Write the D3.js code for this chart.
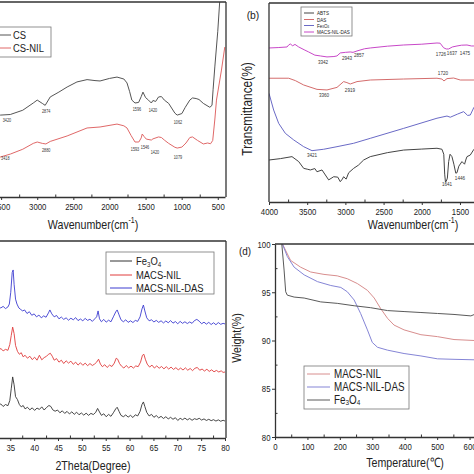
<!DOCTYPE html>
<html><head><meta charset="utf-8">
<script src="https://cdn.jsdelivr.net/npm/d3@7"></script>
<style>body{margin:0;background:#fff}svg{display:block}</style>
</head><body>
<svg id="c" width="474" height="474"></svg>
<script>
// ---------------- DATA ----------------
// (a) FTIR: [wavenumber, transmittance a.u.]
const csSeries = [[3650,41.5],[3511,42],[3373,42.3],[3200,44.5],[3055,48.2],[3000,49.7],[2930,48],[2890,47],[2820,51.3],[2700,53.8],[2586,56.4],[2450,59],[2310,60.2],[2200,59.7],[2130,59.5],[2000,60.8],[1895,61.5],[1800,60.5],[1757,58.5],[1720,54],[1690,49.7],[1646,48.2],[1596,48.5],[1560,51.5],[1536,53.8],[1500,51],[1460,49.7],[1420,48.2],[1398,49.5],[1360,49],[1320,51.3],[1280,51.5],[1240,49.7],[1180,48],[1094,43],[1062,42],[997,42.8],[950,46],[887,49.7],[850,50.8],[800,50.5],[760,50],[700,48],[610,46],[580,47],[565,55],[541,66.7],[500,85],[472,101],[450,110]];
const csNilSeries = [[3650,20],[3511,20.5],[3373,22],[3200,24.5],[3055,27.5],[3000,28.2],[2930,27.5],[2880,27.2],[2820,28.5],[2586,31.3],[2310,35.4],[2130,35.9],[1895,37.4],[1800,36.5],[1757,35.4],[1700,31.5],[1646,28.2],[1593,28.2],[1560,30.3],[1546,32.3],[1520,31],[1490,29.7],[1420,29.2],[1398,29.8],[1320,30.8],[1280,30.5],[1240,29.2],[1180,27.5],[1094,25.5],[1062,25.1],[997,25.6],[940,27.7],[887,30.5],[850,30.8],[780,29],[700,27.2],[640,27.7],[600,27.3],[570,29],[540,40],[518,49.7],[449,65.1],[403,76.9]];
const aLegend = ["CS","CS-NIL"];
const aPeaks = [["3420",3420,39.5],["2874",2876,44.1],["1596",1619,45.1],["1420",1398,44.6],["1062",1052,38.5],
  ["3418",3442,20],["2880",2876,24.1],["1593",1646,24.6],["1546",1508,25.6],["1420",1370,23.1],["1079",1052,20.5]];

// (b) FTIR
const abtsSeries = [[4000,21.1],[3850,21.8],[3699,22.8],[3611,20.3],[3546,16.9],[3500,16.5],[3459,16.1],[3400,16.8],[3372,15.2],[3306,16.1],[3219,11.1],[3153,12.7],[3100,12.5],[3067,10.2],[3040,11.5],[3023,12.7],[2990,11.5],[2957,14.7],[2892,16.9],[2830,18.5],[2761,21.1],[2674,22.8],[2450,24.8],[2237,26.1],[2000,26.6],[1801,27],[1736,26.5],[1712,24],[1700,14],[1690,10],[1679,10.5],[1665,12],[1648,20.3],[1630,24],[1605,22.8],[1580,19],[1555,14.5],[1539,14.7],[1515,18],[1474,20.3],[1440,19],[1420,21.6],[1408,22.8],[1365,23.6],[1317,26.5],[1200,27],[800,28]];
const dasSeries = [[4000,62.2],[3742,62.2],[3655,61],[3546,58.8],[3372,56.6],[3241,56.3],[3110,57.6],[3023,60.5],[2980,60],[2936,59.3],[2848,60.5],[2674,61.3],[2237,61.8],[1801,62.2],[1736,61.8],[1710,60.8],[1670,62],[1583,62.3],[1496,61.3],[1317,61.3],[1000,61.5],[500,61]];
const fe3o4IrSeries = [[4000,54.6],[3939,46.2],[3873,39.5],[3786,34.5],[3677,31.2],[3546,27.8],[3437,25.8],[3284,26.5],[3110,27.8],[2892,29.5],[2674,32],[2237,37],[1801,42.1],[1670,43.2],[1627,42.6],[1530,44.2],[1452,45.4],[1400,43.5],[1365,43.7],[1317,47.6],[1200,49],[800,52]];
const macsDasIrSeries = [[4000,77.4],[3880,77.6],[3764,77.9],[3740,79],[3721,79.4],[3690,78.5],[3660,79.2],[3611,77.9],[3540,76.5],[3481,75.4],[3400,73.8],[3328,73.4],[3241,72.9],[3150,73.1],[3110,73.4],[3067,74.9],[3000,75.2],[2936,75.4],[2900,75.2],[2848,75.9],[2750,77],[2674,77.4],[2450,78.3],[2237,78.9],[2000,79.3],[1801,79.9],[1760,79.8],[1714,77.5],[1680,76.9],[1648,76.9],[1600,77.9],[1539,78.4],[1480,78.8],[1408,78.9],[1350,78.4],[1317,78.4],[1100,78.6],[800,78],[500,77]];
const bLegend = ["ABTS","DAS","Fe3O4","MACS-NIL-DAS"];
const bPeaks = [["3342",3293,70.4],["2943",2979,72.4],["2857",2822,73.9],["1726",1749,74.4],["1637",1605,74.9],["1475",1435,74.9],
  ["3360",3280,53.8],["2919",2940,56.3],["1720",1723,64.8],["3421",3437,23.6],["1641",1670,9],["1446",1500,12.1]];

// (c) XRD: [2theta, intensity a.u.]
const xrdDas = [[31,66],[31.5,67.5],[32,66.2],[32.5,67],[33,66],[33.5,66.8],[34,65.7],[34.5,66.5],[34.8,68],[35.1,74],[35.4,84],[35.6,85.3],[35.8,78],[36.1,70.5],[36.4,68],[36.8,66],[37.2,65.2],[37.6,64.5],[38,65],[38.5,63.2],[39,64.1],[39.5,62.3],[40,63],[40.5,61.5],[41,62.4],[41.5,61],[42,62],[42.5,61.3],[43,63.5],[43.3,65],[43.7,63],[44.2,61.5],[44.7,62.2],[45.2,60.5],[45.7,61.4],[46.2,60.2],[46.7,61],[47.2,59.8],[47.7,60.8],[48.2,60],[48.7,61.1],[49.2,59.6],[49.7,60.4],[50.2,59.5],[50.7,60.7],[51.2,59.7],[51.7,60.3],[52.2,59.2],[52.7,60.5],[53.1,61.5],[53.4,64.5],[53.7,60.5],[54.1,59],[54.6,60.2],[55.1,58.8],[55.6,59.8],[56.1,59],[56.6,61.5],[57.1,64],[57.4,65],[57.8,62.5],[58.2,60],[58.7,59],[59.2,60],[59.7,58.7],[60.2,59.5],[60.7,58.6],[61.2,59.7],[61.7,59.2],[62.2,61.5],[62.6,65.5],[62.9,67.5],[63.2,64.5],[63.6,61],[64.1,59.5],[64.6,60],[65.1,58.9],[65.6,59.7],[66.1,58.7],[66.6,59.5],[67.1,58.4],[67.6,59.4],[68.1,58.5],[68.6,59.6],[69.1,58.3],[69.6,59.1],[70.1,58],[70.6,59.2],[71.1,58.2],[71.6,59],[72.1,58.1],[72.6,58.9],[73.1,58.2],[73.6,59.6],[74.1,60.2],[74.6,59.3],[75.1,58],[75.6,58.8],[76.1,57.8],[76.6,58.7],[77.1,57.6],[77.6,58.5],[78.1,57.5],[78.6,58.6],[79.1,57.7],[79.6,58.2],[80,57.9]];
const xrdNil = [[31,45],[31.5,43.8],[32,45.2],[32.5,44],[33,45.5],[33.5,44.2],[34,45],[34.5,44.5],[34.9,47.5],[35.2,52],[35.5,56.3],[35.8,53],[36.1,47],[36.5,44],[36.9,42.5],[37.3,43.3],[37.7,41.2],[38.1,42],[38.6,40.5],[39.1,41.5],[39.6,39.8],[40.1,41],[40.6,39.5],[41.1,42],[41.6,39.7],[42.1,40.8],[42.6,41.5],[43,42.5],[43.4,43],[43.8,41.5],[44.2,39.5],[44.7,40.3],[45.2,38.5],[45.7,39.5],[46.2,37.8],[46.7,39.2],[47.2,38],[47.7,39],[48.2,37.4],[48.7,38.5],[49.2,37],[49.7,38.2],[50.2,36.9],[50.7,38],[51.2,36.7],[51.7,37.8],[52.2,36.8],[52.7,37.6],[53.1,38.5],[53.5,40],[53.9,37.5],[54.3,36.2],[54.8,37.2],[55.3,35.8],[55.8,37],[56.3,36.3],[56.8,38],[57.2,40.5],[57.5,40],[57.9,37.8],[58.3,36.5],[58.8,35.5],[59.3,36.8],[59.8,35.6],[60.3,36.5],[60.8,35.5],[61.3,36.6],[61.8,36.2],[62.3,38.5],[62.7,42],[63,42.5],[63.3,40],[63.7,37.5],[64.2,36],[64.7,37],[65.2,35.5],[65.7,36.6],[66.2,35.4],[66.7,36.3],[67.2,35.1],[67.7,36.2],[68.2,35],[68.7,36],[69.2,34.8],[69.7,35.7],[70.2,34.6],[70.7,35.5],[71.2,34.5],[71.7,35.6],[72.2,34.4],[72.7,35.3],[73.2,34.2],[73.7,35.4],[74.2,35.8],[74.7,34.4],[75.2,35],[75.7,34],[76.2,34.9],[76.7,33.8],[77.2,34.6],[77.7,33.6],[78.2,34.3],[78.7,33.5],[79.2,34.1],[79.6,33.3],[80,33.5]];
const xrdFe = [[31,17.5],[31.5,16.2],[32,17.8],[32.5,16.5],[33,17.3],[33.5,16],[34,17],[34.5,16.4],[34.9,19],[35.2,25],[35.5,31],[35.8,27],[36.1,21],[36.5,19.5],[36.9,17],[37.3,15.8],[37.7,16.5],[38.1,14.8],[38.6,15.6],[39.1,14.3],[39.6,15.3],[40.1,14],[40.6,15.2],[41.1,14.5],[41.6,15.8],[42.1,14.2],[42.6,15.5],[43.1,16.5],[43.5,16],[43.9,14.3],[44.4,13.6],[44.9,14.2],[45.4,12.8],[45.9,13.8],[46.4,12.5],[46.9,13.5],[47.4,12.2],[47.9,13.3],[48.4,12],[48.9,13.1],[49.4,11.8],[49.9,12.7],[50.4,11.6],[50.9,12.6],[51.4,11.5],[51.9,12.5],[52.4,11.9],[52.9,13],[53.3,15],[53.7,13.2],[54.1,11.5],[54.6,12.3],[55.1,10.8],[55.6,12],[56.1,11],[56.6,12.8],[57.1,14.8],[57.4,15.6],[57.8,13.5],[58.2,11.5],[58.7,10.8],[59.2,11.7],[59.7,10.6],[60.2,11.5],[60.7,10.4],[61.2,11.8],[61.7,11.2],[62.2,13.5],[62.6,17],[62.9,18.3],[63.2,16],[63.6,13],[64.1,11.2],[64.6,12],[65.1,10.5],[65.6,11.4],[66.1,10.2],[66.6,11],[67.1,9.9],[67.6,10.8],[68.1,9.7],[68.6,10.5],[69.1,9.5],[69.6,10.3],[70.1,8.9],[70.6,10],[71.1,9.3],[71.6,10.1],[72.1,9.2],[72.6,9.9],[73.1,9],[73.6,9.8],[74.1,9.4],[74.6,10],[75.1,9.1],[75.6,9.7],[76.1,8.9],[76.6,9.5],[77.1,8.8],[77.6,9.3],[78.1,8.6],[78.6,9.2],[79.1,8.5],[79.6,9],[80,8.6]];
const cLegend = ["Fe3O4","MACS-NIL","MACS-NIL-DAS"];
const cTicks = [30,35,40,45,50,55,60,65,70,75,80];

// (d) TGA: [temperature C, weight %]
const tgaNil = [[23,100],[48,98.3],[79,97.6],[110,97.1],[151,96.85],[192,96.7],[223,96.4],[254,95.9],[285,95.2],[306,94.4],[326,93.3],[347,92.3],[367,91.6],[398,91.1],[450,90.6],[501,90.4],[552,90.1],[615,90.0],[700,89.8]];
const tgaDas = [[23,100],[38,98.7],[59,97.6],[90,96.8],[131,96.1],[172,95.7],[203,95.5],[223,95.05],[244,94.2],[264,92.8],[285,91.1],[300,89.8],[316,89.3],[347,89.0],[398,88.65],[450,88.4],[501,88.1],[552,88.05],[615,88.0],[700,87.9]];
const tgaFe = [[21,100],[28,97.3],[33,95.05],[38,94.7],[59,94.5],[90,94.4],[141,94.0],[192,93.85],[244,93.6],[295,93.4],[347,93.1],[398,93.0],[450,92.9],[501,92.8],[552,92.7],[604,92.55],[615,92.7],[700,92.6]];
const dLegend = ["MACS-NIL","MACS-NIL-DAS","Fe3O4"];
const dXTicks = [0,100,200,300,400,500,600];
const dYTicks = [80,85,90,95,100];

// ---------------- DRAW ----------------
const FONT = "'Liberation Sans', Arial, Helvetica, sans-serif";
const SX = 0.82;
const INK = "#333";
const svg = d3.select("#c");
svg.append("rect").attr("width",474).attr("height",474).attr("fill","#fff");
const defs = svg.append("defs");

function richText(g, x, y, str, size, o = {}) {
  const t = g.append("text")
    .attr("transform", `translate(${x},${y}) rotate(${o.rot||0}) scale(${o.sx||SX},1)`)
    .attr("font-family", FONT).attr("font-size", size).attr("fill", o.fill||"#222")
    .attr("text-anchor", o.anchor||"start").attr("dominant-baseline", o.base||"central");
  let parts;
  if (o.sub) {
    parts = [];
    str.split(/(\d)/).filter(s=>s.length).forEach(s=>parts.push({s, sh: /\d/.test(s)?1:0}));
  } else if (o.sup) {
    parts = o.sup;
  } else parts = [{s:str, sh:0}];
  let cur = 0;
  parts.forEach(p => {
    const off = p.sh===1 ? size*0.25 : p.sh===-1 ? -size*0.4 : 0;
    t.append("tspan").attr("dy", off-cur).attr("font-size", p.sh? size*0.65 : size).text(p.s);
    cur = off;
  });
  return t;
}

function lineGen(x, y) {
  return d3.line().x(d=>x(d[0])).y(d=>y(d[1])).curve(d3.curveLinear);
}

function clip(id, x0, y0, x1, y1) {
  defs.append("clipPath").attr("id", id).append("rect")
    .attr("x", x0).attr("y", y0).attr("width", x1-x0).attr("height", y1-y0);
  return `url(#${id})`;
}

function bottomAxis(g, x, y0, major, minor, fs) {
  const a = g.append("g").attr("transform", `translate(0,${y0})`)
    .call(d3.axisBottom(x).tickValues(major).tickSize(3).tickSizeOuter(0).tickPadding(3).tickFormat(d3.format("d")));
  a.select(".domain").attr("stroke", INK).attr("stroke-width", 1.3);
  a.selectAll(".tick line").attr("stroke", INK).attr("stroke-width", 1);
  a.selectAll(".tick text").attr("font-family", FONT).attr("font-size", fs||9.5).attr("fill", "#222")
    .attr("transform", `scale(${SX},1)`);
  const m = g.append("g").attr("transform", `translate(0,${y0})`)
    .call(d3.axisBottom(x).tickValues(minor).tickSize(-2.5).tickSizeOuter(0).tickFormat(""));
  m.select(".domain").remove();
  m.selectAll(".tick line").attr("stroke", INK).attr("stroke-width", 1);
}

function frameLine(g, x1, y1, x2, y2) {
  g.append("line").attr("x1",x1).attr("y1",y1).attr("x2",x2).attr("y2",y2)
    .attr("stroke", INK).attr("stroke-width", 1.3);
}

function legend(g, x0, y0, w, h, items, lx0, lx1, tx, fs) {
  g.append("rect").attr("x",x0).attr("y",y0).attr("width",w).attr("height",h)
    .attr("fill","#fff").attr("stroke","#777").attr("stroke-width",0.8);
  items.forEach(it => {
    g.append("line").attr("x1",lx0).attr("x2",lx1).attr("y1",it.y).attr("y2",it.y)
      .attr("stroke", it.color).attr("stroke-width", 1);
    richText(g, tx, it.y, it.label, fs, {sub:true});
  });
}

// ===== Panel (a) =====
{
  const g = svg.append("g");
  const x = d3.scaleLinear().domain([4000,400]).range([-35,225]);
  const y = d3.scaleLinear().domain([0,100]).range([197,2]);
  const cp = clip("ca", -40, 2, 226, 197);
  const lg = g.append("g").attr("clip-path", cp);
  const L = lineGen(x, y);
  lg.append("path").attr("d", L(csSeries)).attr("fill","none").attr("stroke","#555").attr("stroke-width",1);
  lg.append("path").attr("d", L(csNilSeries)).attr("fill","none").attr("stroke","#e06868").attr("stroke-width",1);
  aPeaks.forEach(p => richText(g, x(p[1]), y(p[2]), p[0], 4.6, {anchor:"middle", fill:"#333"}));
  frameLine(g, -40, 2, 226, 2);
  frameLine(g, 226, 2, 226, 197);
  bottomAxis(g, x, 197, [500,1000,1500,2000,2500,3000,3500,4000], [750,1250,1750,2250,2750,3250,3750]);
  richText(g, 93, 225, "", 13, {anchor:"middle", sup:[{s:"Wavenumber(cm",sh:0},{s:"-1",sh:-1},{s:")",sh:0}]});
  legend(g, -10, 27, 61, 30, [
    {label:aLegend[0], color:"#555", y:35},
    {label:aLegend[1], color:"#e06868", y:48}], -10, 11, 13, 11.5);
}

// ===== Panel (b) =====
{
  const g = svg.append("g");
  const x = d3.scaleLinear().domain([4000,400]).range([269,544]);
  const y = d3.scaleLinear().domain([0,100]).range([202,3]);
  const cp = clip("cb", 269, 3, 480, 202);
  const lg = g.append("g").attr("clip-path", cp);
  const L = lineGen(x, y);
  [[abtsSeries,"#444"],[dasSeries,"#d46c6c"],[fe3o4IrSeries,"#6a6ac6"],[macsDasIrSeries,"#c848c8"]].forEach(s =>
    lg.append("path").attr("d", L(s[0])).attr("fill","none").attr("stroke", s[1]).attr("stroke-width",1));
  bPeaks.forEach(p => richText(g, x(p[1]), y(p[2]), p[0], 5.6, {anchor:"middle", fill:"#333"}));
  frameLine(g, 269, 3, 480, 3);
  frameLine(g, 269, 3, 269, 202);
  bottomAxis(g, x, 202, [500,1000,1500,2000,2500,3000,3500,4000], [750,1250,1750,2250,2750,3250,3750]);
  richText(g, 413, 225, "", 13, {anchor:"middle", sup:[{s:"Wavenumber(cm",sh:0},{s:"-1",sh:-1},{s:")",sh:0}]});
  richText(g, 247, 109, "Transmittance(%)", 14.5, {anchor:"middle", rot:-90});
  richText(g, 253, 15, "(b)", 11.5, {anchor:"middle", sx:0.9});
  legend(g, 301, 7, 51, 29, [
    {label:bLegend[0], color:"#444", y:13},
    {label:bLegend[1], color:"#d46c6c", y:19.5},
    {label:bLegend[2], color:"#6a6ac6", y:25.5},
    {label:bLegend[3], color:"#c848c8", y:32}], 304, 314, 317, 5.6);
}

// ===== Panel (c) =====
{
  const g = svg.append("g");
  const x = d3.scaleLinear().domain([10,80]).range([-109,225]);
  const y = d3.scaleLinear().domain([0,100]).range([438,241]);
  const cp = clip("cc", -5, 241, 226, 438);
  const lg = g.append("g").attr("clip-path", cp);
  const L = lineGen(x, y);
  [[xrdFe,"#333"],[xrdNil,"#e03c3c"],[xrdDas,"#3c3cd0"]].forEach(s =>
    lg.append("path").attr("d", L(s[0])).attr("fill","none").attr("stroke", s[1]).attr("stroke-width",0.9));
  frameLine(g, -5, 241, 226, 241);
  frameLine(g, 226, 241, 226, 438);
  bottomAxis(g, x, 438, cTicks, [32.5,37.5,42.5,47.5,52.5,57.5,62.5,67.5,72.5,77.5]);
  richText(g, 93, 466, "2Theta(Degree)", 13, {anchor:"middle"});
  legend(g, 106, 252, 108, 42, [
    {label:cLegend[0], color:"#333", y:261},
    {label:cLegend[1], color:"#e03c3c", y:275},
    {label:cLegend[2], color:"#3c3cd0", y:288}], 110, 132, 136, 11.5);
}

// ===== Panel (d) =====
{
  const g = svg.append("g");
  const x = d3.scaleLinear().domain([0,700]).range([275,502]);
  const y = d3.scaleLinear().domain([80,100]).range([437,244]);
  const cp = clip("cd", 275, 244, 480, 437);
  const lg = g.append("g").attr("clip-path", cp);
  const L = lineGen(x, y);
  [[tgaNil,"#d88e8e"],[tgaDas,"#8585d6"],[tgaFe,"#5a5a5a"]].forEach(s =>
    lg.append("path").attr("d", L(s[0])).attr("fill","none").attr("stroke", s[1]).attr("stroke-width",1));
  frameLine(g, 275, 244, 480, 244);
  bottomAxis(g, x, 437, dXTicks, [50,150,250,350,450,550,650]);
  const ya = g.append("g").attr("transform","translate(275,0)")
    .call(d3.axisLeft(y).tickValues(dYTicks).tickSize(3).tickSizeOuter(0).tickPadding(1.5).tickFormat(d3.format("d")));
  ya.select(".domain").attr("stroke", INK).attr("stroke-width", 1.3);
  ya.selectAll(".tick line").attr("stroke", INK);
  ya.selectAll(".tick text").attr("font-family", FONT).attr("font-size", 9.5).attr("fill","#222")
    .attr("x", -4.5/SX).attr("transform", `scale(${SX},1)`);
  const ym = g.append("g").attr("transform","translate(275,0)")
    .call(d3.axisLeft(y).tickValues([82.5,87.5,92.5,97.5]).tickSize(-2.5).tickSizeOuter(0).tickFormat(""));
  ym.select(".domain").remove();
  ym.selectAll(".tick line").attr("stroke", INK);
  richText(g, 405, 463, "Temperature(℃)", 13, {anchor:"middle"});
  richText(g, 237, 338, "Weight(%)", 13, {anchor:"middle", rot:-90});
  richText(g, 245, 251, "(d)", 11, {anchor:"middle", sx:0.9});
  legend(g, 304, 366, 105, 43, [
    {label:dLegend[0], color:"#d88e8e", y:374},
    {label:dLegend[1], color:"#8585d6", y:387},
    {label:dLegend[2], color:"#5a5a5a", y:400}], 307, 330, 334, 12);
}
</script></body></html>
